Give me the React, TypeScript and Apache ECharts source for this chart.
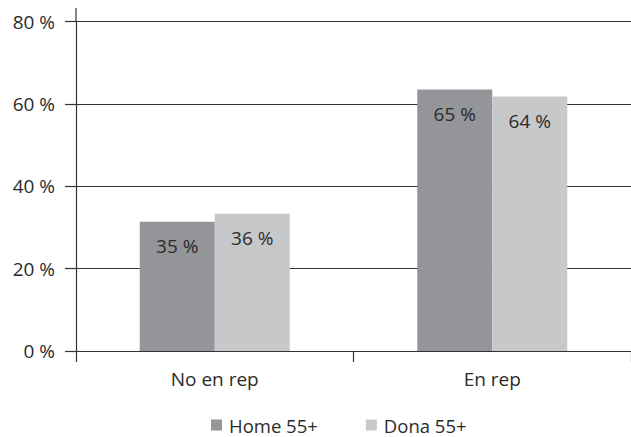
import React, { useEffect, useRef } from "react";
import * as echarts from "echarts";

const categories = ["No en rep", "En rep"];
const homeValues = [31.4, 63.5];
const donaValues = [33.3, 61.8];
const homeLabels = ["35 %", "65 %"];
const donaLabels = ["36 %", "64 %"];
const seriesNames = ["Home 55+", "Dona 55+"];
const yMin = 0;
const yMax = 80;
const yInterval = 20;

const FONT = "Open Sans";
const TXT = "#2b2b2b";
const LINE = "#333333";

export default function App() {
  const ref = useRef<HTMLDivElement>(null);
  useEffect(() => {
    if (!ref.current) return;
    const chart = echarts.init(ref.current, null, { renderer: "svg" });
    chart.setOption({
      animation: false,
      textStyle: { fontFamily: FONT },
      grid: { left: 76, top: 21.5, width: 563, height: 329.5 },
      legend: {
        left: 211,
        top: 414,
        padding: 0,
        itemWidth: 11,
        itemHeight: 11,
        itemGap: 48,
        icon: "rect",
        textStyle: { fontFamily: FONT, fontSize: 18.5, lineHeight: 22, color: TXT, padding: [0, 0, 0, 2] },
        data: seriesNames,
      },
      graphic: [
        {
          type: "line",
          shape: { x1: 76, y1: 8, x2: 76, y2: 22 },
          style: { stroke: LINE, lineWidth: 1.2 },
        },
      ],
      xAxis: {
        type: "category",
        data: categories,
        axisLine: { show: true, lineStyle: { color: LINE, width: 1.2 } },
        axisTick: { show: true, length: 11, lineStyle: { color: LINE, width: 1.2 } },
        axisLabel: { fontFamily: FONT, fontSize: 19, color: TXT, margin: 18 },
      },
      yAxis: {
        type: "value",
        min: yMin,
        max: yMax,
        interval: yInterval,
        axisLine: { show: true, lineStyle: { color: LINE, width: 1.2 } },
        axisTick: { show: true, length: 11, lineStyle: { color: LINE, width: 1.2 } },
        axisLabel: {
          fontFamily: FONT,
          fontSize: 19,
          color: TXT,
          margin: 21,
          formatter: (v: number) => `${v} %`,
        },
        splitLine: { show: true, lineStyle: { color: LINE, width: 1.2 } },
      },
      series: [
        {
          name: seriesNames[0],
          type: "bar",
          data: homeValues,
          barWidth: 75,
          barGap: "0%",
          itemStyle: { color: "#939598" },
          label: {
            show: true,
            position: "insideTop",
            distance: 15,
            fontFamily: FONT,
            fontSize: 19,
            color: TXT,
            formatter: (p: any) => homeLabels[p.dataIndex],
          },
        },
        {
          name: seriesNames[1],
          type: "bar",
          data: donaValues,
          barWidth: 75,
          barGap: "0%",
          itemStyle: { color: "#c7c8ca" },
          label: {
            show: true,
            position: "insideTop",
            distance: 15,
            fontFamily: FONT,
            fontSize: 19,
            color: TXT,
            formatter: (p: any) => donaLabels[p.dataIndex],
          },
        },
      ],
    });
    return () => chart.dispose();
  }, []);
  return (
    <div
      ref={ref}
      style={{ position: "fixed", left: 0, top: 0, width: 631, height: 437, background: "#fff" }}
    />
  );
}
